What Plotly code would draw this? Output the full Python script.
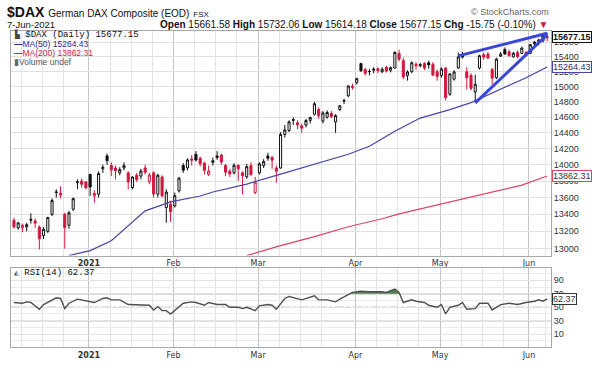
import math
import pandas as pd
import plotly.graph_objects as go

# ---------------- data ----------------
holidays = ["2020-12-24", "2020-12-25", "2020-12-31", "2021-01-01", "2021-04-02", "2021-04-05"]
dates = [d.strftime("%Y-%m-%d") for d in pd.bdate_range("2020-12-03", "2021-06-07")
         if d.strftime("%Y-%m-%d") not in holidays]

opens = [13330, 13240, 13240, 13250, 13330, 13320, 13250, 13150, 13200, 13400, 13660, 13650, 13400, 13270, 13460,
         13780, 13800, 13790,
         13880, 13620, 13640, 13950, 14110, 13990, 13960, 13900, 13960, 13900, 13720, 13870, 13860, 13960, 13790,
         13900, 13640, 13850, 13480, 13520,
         13500, 13680, 13990, 13960, 14070, 14130, 14080, 14020, 13880, 14030, 14090, 14120, 13990, 13920, 13900,
         13990, 13900, 13850, 13990, 13660,
         13900, 13990, 14110, 14090, 13960, 13960, 14380, 14430, 14560, 14530, 14490, 14500, 14560, 14640, 14700,
         14550, 14600, 14650, 14540, 14700, 14810, 14880, 14990,
         15050, 15310, 15230, 15200, 15220, 15240, 15200, 15260, 15220, 15250, 15450, 15350, 15150, 15200, 15300,
         15280, 15310, 15320, 15300, 15200,
         15150, 15250, 14900, 15100, 15250, 15410, 15200, 15150, 14930, 15250, 15430, 15440, 15230, 15120, 15410,
         15500, 15470, 15400, 15460, 15450, 15460,
         15450, 15580, 15600, 15620, 15661.58]
highs = [13360, 13310, 13290, 13300, 13411, 13350, 13270, 13250, 13370, 13590, 13700, 13735, 13420, 13440, 13600,
         13820, 13830, 13800,
         13890, 13690, 13920, 14000, 14140, 14030, 13990, 13970, 14030, 13920, 13860, 13900, 13950, 14000, 13900,
         13920, 13890, 13870, 13700, 13560,
         13660, 13850, 14020, 14080, 14120, 14170, 14100, 14040, 13990, 14090, 14170, 14140, 14010, 13950, 14020,
         14010, 13920, 14010, 14030, 13850,
         14030, 14070, 14150, 14110, 13990, 14410, 14500, 14560, 14600, 14560, 14520, 14580, 14610, 14800, 14730,
         14680, 14690, 14680, 14640, 14760, 14840, 15020, 15040,
         15120, 15320, 15250, 15240, 15260, 15260, 15260, 15280, 15270, 15480, 15500, 15390, 15220, 15340, 15330,
         15320, 15330, 15350, 15330, 15230,
         15260, 15260, 15180, 15220, 15460, 15470, 15260, 15180, 15160, 15430, 15460, 15470, 15250, 15390, 15470,
         15530, 15500, 15470, 15490, 15540, 15480,
         15580, 15620, 15650, 15710, 15732.06]
lows = [13230, 13220, 13190, 13200, 13290, 13240, 12990, 13110, 13180, 13380, 13600, 13590, 13000, 13230, 13440,
        13700, 13720, 13700,
        13620, 13540, 13600, 13900, 14000, 13860, 13820, 13870, 13930, 13700, 13700, 13790, 13820, 13880, 13760,
        13600, 13600, 13600, 13300, 13310,
        13480, 13660, 13900, 13930, 13990, 14040, 13980, 13880, 13860, 13990, 14060, 14000, 13860, 13850, 13880,
        13800, 13640, 13830, 13860, 13640,
        13880, 13960, 14050, 13950, 13780, 13950, 14340, 14410, 14500, 14450, 14400, 14470, 14520, 14620, 14580,
        14520, 14580, 14590, 14400, 14680, 14770, 14860, 14960,
        15030, 15200, 15150, 15150, 15180, 15180, 15180, 15190, 15190, 15240, 15340, 15100, 15080, 15180, 15230,
        15260, 15220, 15240, 15140, 15080,
        15120, 14820, 14880, 15080, 15240, 15380, 14960, 14950, 14790, 15230, 15360, 15370, 15030, 15100, 15400,
        15430, 15400, 15390, 15380, 15440, 15400,
        15440, 15550, 15560, 15600, 15614.18]
closes = [13252, 13298, 13271, 13278, 13340, 13296, 13114, 13223, 13362, 13565, 13667, 13631, 13246, 13418, 13587,
          13790, 13761, 13719,
          13727, 13651, 13892, 13968, 14050, 13937, 13925, 13940, 13989, 13788, 13848, 13816, 13922, 13907, 13874,
          13643, 13871, 13621, 13666, 13433,
          13622, 13835, 13933, 14060, 14057, 14059, 14012, 13932, 13921, 14050, 14109, 14034, 13909, 13887, 13993,
          13950, 13865, 13976, 13879, 13786,
          14012, 14039, 14080, 14056, 13921, 14381, 14437, 14541, 14570, 14502, 14461, 14558, 14597, 14776, 14621,
          14657, 14662, 14610, 14621, 14749, 14818, 15009, 15008,
          15107, 15212, 15177, 15203, 15234, 15215, 15234, 15209, 15255, 15460, 15368, 15130, 15196, 15321, 15280,
          15296, 15249, 15292, 15155, 15136,
          15236, 14856, 15171, 15197, 15400, 15401, 15120, 14977, 15031, 15417, 15397, 15386, 15114, 15370, 15438,
          15440, 15420, 15450, 15406, 15520, 15421,
          15568, 15603, 15633, 15692.90, 15677.15]
prev_close_before_first = 13313

ma50_dates = ["2020-12-22", "2021-01-04", "2021-01-11", "2021-01-15", "2021-01-21", "2021-01-29", "2021-02-09",
              "2021-02-12", "2021-02-24", "2021-03-08", "2021-03-18", "2021-03-30", "2021-04-08", "2021-04-16",
              "2021-04-26", "2021-05-05", "2021-05-12", "2021-05-24", "2021-05-31", "2021-06-07"]
ma50_vals = [12920, 12977, 13091, 13265, 13441, 13548, 13619, 13667, 13763, 13885, 14007, 14131, 14230, 14420,
             14590, 14700, 14790, 14990, 15120, 15264.43]

ma200_dates = ["2021-02-24", "2021-03-08", "2021-03-18", "2021-03-30", "2021-04-13", "2021-04-19", "2021-05-28",
               "2021-06-07"]
ma200_vals = [12920, 13034, 13138, 13253, 13347, 13406, 13750, 13862.31]

rsi_dates = ["2020-12-03", "2020-12-07", "2020-12-08", "2020-12-09", "2020-12-11", "2020-12-14", "2020-12-17",
             "2020-12-18", "2020-12-21", "2020-12-22", "2020-12-28", "2021-01-04", "2021-01-05", "2021-01-07",
             "2021-01-08", "2021-01-11", "2021-01-13", "2021-01-15", "2021-01-18", "2021-01-20", "2021-01-22",
             "2021-01-25", "2021-01-26", "2021-01-27", "2021-01-28", "2021-01-29", "2021-02-02", "2021-02-03",
             "2021-02-05", "2021-02-08", "2021-02-10", "2021-02-11", "2021-02-15", "2021-02-17", "2021-02-18",
             "2021-02-22", "2021-02-23", "2021-02-24", "2021-02-26", "2021-03-01", "2021-03-03", "2021-03-04",
             "2021-03-05", "2021-03-09", "2021-03-10", "2021-03-12", "2021-03-15", "2021-03-18", "2021-03-19",
             "2021-03-23", "2021-03-25", "2021-03-26", "2021-03-30", "2021-03-31", "2021-04-06", "2021-04-08",
             "2021-04-13", "2021-04-14", "2021-04-16", "2021-04-19", "2021-04-20", "2021-04-22", "2021-04-23",
             "2021-04-27", "2021-04-28", "2021-04-30", "2021-05-03", "2021-05-04", "2021-05-05", "2021-05-07",
             "2021-05-10", "2021-05-11", "2021-05-13", "2021-05-14", "2021-05-18", "2021-05-19", "2021-05-21",
             "2021-05-25", "2021-05-27", "2021-05-28", "2021-05-31", "2021-06-02", "2021-06-03", "2021-06-04",
             "2021-06-07"]
rsi_vals = [57, 56, 58, 57, 47, 54, 64, 63, 48, 56, 62, 59, 57, 63, 64, 61, 61, 54, 54, 53, 53, 46, 51, 45, 45, 40,
            50, 56, 58, 57, 53, 57, 54, 54, 50, 50, 48, 50, 45, 52, 54, 53, 47, 63, 66, 63, 61, 67, 61, 61, 58, 62,
            69, 72, 74, 73, 73, 72, 77, 72, 57, 61, 59, 57, 53, 50, 54, 40, 50, 53, 57, 47, 48, 56, 56, 46, 54, 56,
            54, 56, 57, 59, 61, 59, 62.37]

trend_top_dates = ["2021-05-07", "2021-06-07"]
trend_top_vals = [15414, 15725]
trend_low_dates = ["2021-05-13", "2021-06-07"]
trend_low_vals = [14787, 15705]

price_ticks = [13000, 13200, 13400, 13600, 13800, 14000, 14200, 14400, 14600, 14800, 15000, 15200, 15400, 15600]
rsi_ticks = [10, 30, 50, 70, 90]
rsi_minor = [0, 20, 40, 60, 80, 100]
rsi_levels = [30, 50, 70]

# ---------------- layout constants ----------------
W, H = 600, 370
ML, MR, MT, MB = 10, 49, 31, 21
PW, PH = W - ML - MR, H - MT - MB


def px(x):
    return (x - ML) / PW


def py(y):
    return (H - MB - y) / PH


price_dom = [py(257), 1.0]
rsi_dom = [0.0, py(269)]

RED = "#d3173f"
BLACK = "#111111"
MA50_C = "#4646a6"
MA200_C = "#dc4466"
TREND_C = "#3a46d8"

pos = {d: i for i, d in enumerate(dates)}
xi = list(range(len(dates)))
dt = pd.to_datetime(dates)

month_idx = [i for i in range(1, len(dates)) if dt[i].month != dt[i - 1].month]
month_text = [f"<b>{dt[i].year}</b>" if dt[i].month == 1 else dt[i].strftime("%b") for i in month_idx]
week_idx = [i for i in range(1, len(dates))
            if dt[i].isocalendar()[1] != dt[i - 1].isocalendar()[1]
            and min(abs(i - m) for m in month_idx) > 3]
GS = -0.3

fig = go.Figure()

# moving averages
fig.add_trace(go.Scatter(x=[pos[d] for d in ma200_dates], y=ma200_vals, mode="lines",
                         line=dict(color=MA200_C, width=1.2), xaxis="x", yaxis="y", hoverinfo="skip"))
fig.add_trace(go.Scatter(x=[pos[d] for d in ma50_dates], y=ma50_vals, mode="lines",
                         line=dict(color=MA50_C, width=1.2), xaxis="x", yaxis="y", hoverinfo="skip"))

# candles: black if close >= previous close, red otherwise; hollow if close > open
prev = [prev_close_before_first] + closes[:-1]
groups = {BLACK: [], RED: []}
for i in xi:
    groups[BLACK if closes[i] >= prev[i] else RED].append(i)
for col, idxs in groups.items():
    fig.add_trace(go.Candlestick(
        x=idxs, open=[opens[i] for i in idxs], high=[highs[i] for i in idxs],
        low=[lows[i] for i in idxs], close=[closes[i] for i in idxs],
        increasing=dict(line=dict(color=col, width=1), fillcolor="white"),
        decreasing=dict(line=dict(color=col, width=1), fillcolor=col),
        whiskerwidth=0, xaxis="x", yaxis="y", hoverinfo="skip", showlegend=False))

# trend lines
for tx, ty in [(trend_top_dates, trend_top_vals), (trend_low_dates, trend_low_vals)]:
    fig.add_trace(go.Scatter(x=[pos[d] for d in tx], y=ty, mode="lines",
                             line=dict(color=TREND_C, width=3), xaxis="x", yaxis="y", hoverinfo="skip"))

# RSI
rx = [pos[d] for d in rsi_dates]


def above_regions(xs, ys, level):
    regions, cur = [], None
    for k in range(len(xs)):
        if ys[k] > level:
            if cur is None:
                if k > 0:
                    t = (level - ys[k - 1]) / (ys[k] - ys[k - 1])
                    cur = [(xs[k - 1] + t * (xs[k] - xs[k - 1]), level)]
                else:
                    cur = [(xs[k], level)]
            cur.append((xs[k], ys[k]))
        elif cur is not None:
            t = (level - ys[k - 1]) / (ys[k] - ys[k - 1])
            cur.append((xs[k - 1] + t * (xs[k] - xs[k - 1]), level))
            regions.append(cur)
            cur = None
    if cur:
        cur.append((xs[-1], level))
        regions.append(cur)
    return regions


fx, fy = [], []
for reg in above_regions(rx, rsi_vals, 70):
    fx += [p[0] for p in reg] + [None]
    fy += [p[1] for p in reg] + [None]
fig.add_trace(go.Scatter(x=fx, y=fy, mode="lines", fill="toself", fillcolor="#527f52",
                         line=dict(width=0), xaxis="x2", yaxis="y2", hoverinfo="skip"))
fig.add_trace(go.Scatter(x=rx, y=rsi_vals, mode="lines", line=dict(color="#505050", width=1.4),
                         xaxis="x2", yaxis="y2", hoverinfo="skip"))

shapes = []
for lv in rsi_levels:
    shapes.append(dict(type="line", xref="paper", x0=0, x1=1, yref="y2", y0=lv, y1=lv,
                       line=dict(color="#777777" if lv != 50 else "#888888", width=1,
                                 dash="solid" if lv != 50 else "dashdot"), layer="below"))

sans = "Liberation Sans, Arial, sans-serif"
mono = "Liberation Mono, Courier New, monospace"
tickfont_x = dict(size=8, color="#333333", family="DejaVu Sans, Verdana, sans-serif")
tickfont_y = dict(size=9, color="#333333", family=sans)

xcommon = dict(range=[-0.7, len(dates) - 0.1], tickmode="array",
               tickvals=[i + GS for i in month_idx], ticktext=month_text,
               showgrid=True, gridcolor="#c4c4c4", gridwidth=1,
               minor=dict(tickvals=[i + GS for i in week_idx], showgrid=True, gridcolor="#e4e4e4", gridwidth=1),
               showline=True, mirror=True, linecolor="#a8a8a8", linewidth=1, ticks="",
               tickfont=tickfont_x, zeroline=False, fixedrange=True)

last = len(closes) - 1
chg = closes[last] - closes[last - 1]
pct = chg / closes[last - 1] * 100

annotations = [
    dict(x=px(4), y=py(12), xref="paper", yref="paper", xanchor="left", yanchor="middle", showarrow=False,
         text="<b>$DAX</b> <span style='font-size:10px'>German DAX Composite (EOD)</span> "
              "<span style='font-size:8px'>FSX</span>",
         font=dict(size=14, color="#111111", family=sans)),
    dict(x=px(4), y=py(24), xref="paper", yref="paper", xanchor="left", yanchor="middle", showarrow=False,
         text=dt[last].strftime("%-d-%b-%Y"), font=dict(size=9.5, color="#111111", family=sans)),
    dict(x=px(550), y=py(24), xref="paper", yref="paper", xanchor="right", yanchor="middle", showarrow=False,
         text=(f"<b>Open</b> {opens[last]:.2f} <b>High</b> {highs[last]:.2f} <b>Low</b> {lows[last]:.2f} "
               f"<b>Close</b> {closes[last]:.2f} <b>Chg</b> {chg:.2f} ({pct:.2f}%) "
               f"<span style='color:{RED}'>▼</span>"),
         font=dict(size=10, color="#111111", family=sans)),
    dict(x=px(551), y=py(12), xref="paper", yref="paper", xanchor="right", yanchor="middle", showarrow=False,
         text="© StockCharts.com", font=dict(size=9, color="#666666", family=sans)),
    # legend lines inside price panel
    dict(x=px(11), y=py(35), xref="paper", yref="paper", xanchor="left", yanchor="middle", showarrow=False,
         text=f"<span style='font-size:8px;color:#444'>▙</span> $DAX (Daily) {closes[last]:.2f}",
         font=dict(size=9, color="#111111", family=mono)),
    dict(x=px(11), y=py(44), xref="paper", yref="paper", xanchor="left", yanchor="middle", showarrow=False,
         text=f"<b>—</b>MA(50) {ma50_vals[-1]:.2f}", font=dict(size=8.5, color="#2c2c8e", family=sans)),
    dict(x=px(11), y=py(53), xref="paper", yref="paper", xanchor="left", yanchor="middle", showarrow=False,
         text=f"<b>—</b>MA(200) {ma200_vals[-1]:.2f}", font=dict(size=8.5, color="#cc2244", family=sans)),
    dict(x=px(11), y=py(62), xref="paper", yref="paper", xanchor="left", yanchor="middle", showarrow=False,
         text="<span style='color:#666'>▮</span>Volume undef", font=dict(size=8.5, color="#555555", family=sans)),
    dict(x=px(11), y=py(275), xref="paper", yref="paper", xanchor="left", yanchor="middle", showarrow=False,
         text=f"<span style='font-size:8px;color:#444'>◭</span> RSI(14) {rsi_vals[-1]:.2f}",
         font=dict(size=9, color="#111111", family=mono)),
]


def value_box(text, yv, yref, border, color, bold=False):
    return dict(x=1, xref="paper", xanchor="left", xshift=1, y=yv, yref=yref, yanchor="middle",
                text=f"<b>{text}</b>" if bold else text, showarrow=False, bgcolor="white",
                bordercolor=border, borderwidth=1, borderpad=0,
                font=dict(size=9, color=color, family=sans))


annotations += [
    value_box(f"{closes[last]:.2f}", math.log10(closes[last]), "y", "#111111", "#111111", bold=True),
    value_box(f"{ma50_vals[-1]:.2f}", math.log10(ma50_vals[-1]), "y", MA50_C, "#333355"),
    value_box(f"{ma200_vals[-1]:.2f}", math.log10(ma200_vals[-1]), "y", MA200_C, "#333333"),
    value_box(f"{rsi_vals[-1]:.2f}", rsi_vals[-1], "y2", "#333333", "#333333"),
]

fig.update_layout(
    width=W, height=H, margin=dict(l=ML, r=MR, t=MT, b=MB, pad=0),
    paper_bgcolor="white", plot_bgcolor="white", showlegend=False, hovermode=False,
    xaxis=dict(anchor="y", domain=[0, 1], rangeslider=dict(visible=False), **xcommon),
    xaxis2=dict(anchor="y2", domain=[0, 1], matches="x", **xcommon),
    yaxis=dict(domain=price_dom, type="log", range=[math.log10(12920), math.log10(15757)], side="right",
               tickmode="array", tickvals=price_ticks, ticktext=[str(v) for v in price_ticks],
               showgrid=True, gridcolor="#e0e0e0", showline=True, mirror=True, linecolor="#a8a8a8",
               ticks="", tickfont=tickfont_y, zeroline=False, fixedrange=True),
    yaxis2=dict(domain=rsi_dom, range=[-9, 109], side="right", tickmode="array", tickvals=rsi_ticks,
                showgrid=True, gridcolor="#e2e2e2",
                minor=dict(tickvals=rsi_minor, showgrid=True, gridcolor="#ececec"),
                showline=True, mirror=True, linecolor="#a8a8a8", ticks="", tickfont=tickfont_y,
                zeroline=False, fixedrange=True),
    shapes=shapes, annotations=annotations,
)

fig.write_html("out.html", config={"displayModeBar": False},
               post_script="document.body.style.margin='0';document.documentElement.style.overflow='hidden';")
